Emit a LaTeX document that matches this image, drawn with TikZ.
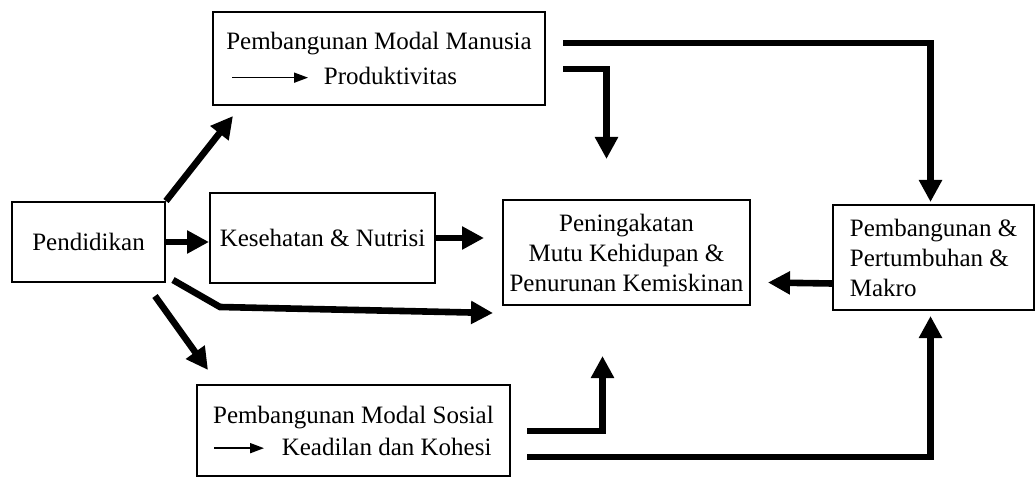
\documentclass[tikz,border=0pt]{standalone}
\usepackage{fontspec}
\setmainfont{Liberation Serif}
\usetikzlibrary{arrows.meta, positioning, calc}
\tikzset{
    flowchart/.style={x=0.5pt, y=-0.5pt, font=\fontsize{12.5}{15}\selectfont},
    box/.style={draw, line width=1pt, align=left, inner sep=0pt},
    flow/.style={line width=3.3pt, -{Triangle[length=11pt,width=11pt]}},
}
% small arrow used inside the box texts
\newcommand{\inarrow}[1]{\tikz[baseline=-0.6ex]\draw[line width=0.8pt,-{Triangle[length=7pt,width=5pt]}] (0,0) -- (#1,0);}

\begin{document}
\begin{tikzpicture}[flowchart]
    \useasboundingbox (0,0) rectangle (1036,480);

    \node[box, minimum width=76.5pt, minimum height=40pt]    (pend)    at (88.5,242)  {Pendidikan};
    \node[box, minimum width=166pt, minimum height=46.5pt]   (manusia) at (379,58.5)  {Pembangunan Modal Manusia\\[2.5pt]\hspace{2.5pt}\inarrow{38pt}\hspace{7.5pt}Produktivitas};
    \node[box, minimum width=112.5pt, minimum height=45pt]   (sehat)   at (322.5,238) {Kesehatan \& Nutrisi};
    \node[box, align=center, minimum width=123.5pt, minimum height=52.5pt] (mutu) at (626.5,252.5) {Peningakatan\\Mutu Kehidupan \&\\Penurunan Kemiskinan};
    \node[box, minimum width=100.5pt, minimum height=52.5pt] (makro)   at (933.5,257.5) {Pembangunan \&\\Pertumbuhan \&\\Makro};
    \node[box, minimum width=156.5pt, minimum height=45.5pt] (sosial)  at (353.5,430.5) {Pembangunan Modal Sosial\\[1pt]\inarrow{25pt}\hspace{8.5pt}Keadilan dan Kohesi};

    % free ends of the connectors
    \coordinate (pend-up)   at (233,116);
    \coordinate (pend-lo-a) at (173,280);
    \coordinate (pend-lo-b) at (220,307);
    \coordinate (pend-lo-c) at (493,313);
    \coordinate (pend-dn-a) at (155,296);
    \coordinate (pend-dn-b) at (208,370);
    \coordinate (man-a)     at (563,69);
    \coordinate (man-b)     at (563,43);
    \coordinate (sos-a)     at (527,431);
    \coordinate (sos-b)     at (527,457);

    \draw[flow] (pend.north east) -- (pend-up);
    \draw[flow] (pend.east) -- (pend.east -| sehat.west);
    \draw[flow] (pend-lo-a) -- (pend-lo-b) -- (pend-lo-c);
    \draw[flow] (pend-dn-a) -- (pend-dn-b);
    \draw[flow, shorten >=9pt] (sehat.east) -- (sehat.east -| mutu.west);

    \draw[flow] (man-a) -| ([xshift=-10pt, yshift=20pt]mutu.north);
    \draw[flow] (man-b) -| ([xshift=-1.5pt, yshift=1pt]makro.north);

    \draw[flow] ([yshift=-13pt]makro.west) -- ([yshift=-15pt, xshift=8.5pt]mutu.east);

    \draw[flow] (sos-a) -| ([xshift=-12pt, yshift=-25pt]mutu.south);
    \draw[flow] (sos-b) -| ([xshift=-1.5pt, yshift=-2.5pt]makro.south);
\end{tikzpicture}
\end{document}
